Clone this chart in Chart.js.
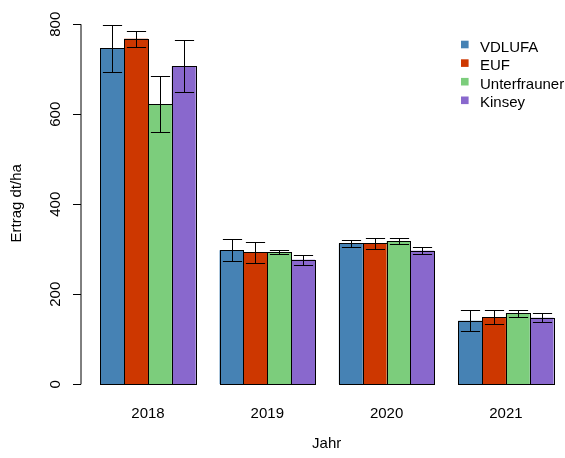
<!DOCTYPE html>
<html>
<head>
<meta charset="utf-8">
<script src="https://cdn.jsdelivr.net/npm/chart.js@4/dist/chart.umd.min.js"></script>
<style>
  html, body { margin: 0; padding: 0; background: #fff; overflow: hidden; }
  canvas { display: block; }
</style>
</head>
<body>
<canvas id="c" width="565" height="458"></canvas>
<script>
// Yield per year and method (means and standard deviations, dt/ha)
const years = ['2018', '2019', '2020', '2021'];
const methods = ['VDLUFA', 'EUF', 'Unterfrauner', 'Kinsey'];

const vdlufa = [747, 298, 313, 141];
const vdlufaSd = [52, 24, 8, 23];
const euf = [768, 293, 313, 149];
const eufSd = [18, 23, 12, 15];
const unterfrauner = [623, 294, 318, 158];
const unterfraunerSd = [62, 5, 6, 8];
const kinsey = [707, 277, 297, 148];
const kinseySd = [57, 11, 7, 10];

const yTicks = [0, 200, 400, 600, 800];

const colors = ['#4682B4', '#CD3700', '#7CCD7C', '#8968CD'];
const means = [vdlufa, euf, unterfrauner, kinsey];
const sds = [vdlufaSd, eufSd, unterfraunerSd, kinseySd];

const FONT = '15px "Liberation Sans", Arial, Helvetica, sans-serif';
const TEXT = '#000';

const datasets = methods.map((name, i) => ({
  label: name,
  data: means[i].map((v, j) => ({ x: j, y: v })),
  sd: sds[i],
  backgroundColor: colors[i],
  borderWidth: 0,
  inflateAmount: 0
}));

const snap = v => Math.round(v) + 0.5;

// Bar outlines (centred on the bar edges) and error bars at mean ± sd
const barDecor = {
  id: 'barDecor',
  afterDatasetsDraw(chart) {
    const ctx = chart.ctx;
    const ys = chart.scales.y;
    ctx.save();
    ctx.strokeStyle = '#000';
    ctx.lineWidth = 1;
    chart.data.datasets.forEach((ds, i) => {
      chart.getDatasetMeta(i).data.forEach(bar => {
        const l = snap(bar.x - bar.width / 2), r = snap(bar.x + bar.width / 2);
        const t = snap(bar.y), b = snap(bar.base);
        ctx.strokeRect(l, t, r - l, b - t);
      });
    });
    chart.data.datasets.forEach((ds, i) => {
      chart.getDatasetMeta(i).data.forEach((bar, j) => {
        const m = ds.data[j].y, s = ds.sd[j];
        const x = snap(bar.x);
        const y1 = snap(ys.getPixelForValue(m + s));
        const y2 = snap(ys.getPixelForValue(m - s));
        const cap = 9.6;
        ctx.beginPath();
        ctx.moveTo(x, y1); ctx.lineTo(x, y2);
        ctx.moveTo(x - cap, y1); ctx.lineTo(x + cap, y1);
        ctx.moveTo(x - cap, y2); ctx.lineTo(x + cap, y2);
        ctx.stroke();
      });
    });
    ctx.restore();
  }
};

// Left value axis, category labels, axis titles and legend
const decorations = {
  id: 'decorations',
  afterDraw(chart) {
    const ctx = chart.ctx;
    const xs = chart.scales.x, ys = chart.scales.y;
    const area = chart.chartArea;
    const axisX = 81;
    ctx.save();
    ctx.strokeStyle = '#000';
    ctx.lineWidth = 1;

    // value axis line and tick marks
    ctx.beginPath();
    ctx.moveTo(axisX, ys.getPixelForValue(yTicks[0]));
    ctx.lineTo(axisX, ys.getPixelForValue(yTicks[yTicks.length - 1]));
    yTicks.forEach(t => {
      const py = snap(ys.getPixelForValue(t));
      ctx.moveTo(axisX, py);
      ctx.lineTo(axisX - 8, py);
    });
    ctx.stroke();

    ctx.fillStyle = TEXT;
    ctx.font = FONT;

    // value tick labels, rotated
    yTicks.forEach(t => {
      const py = ys.getPixelForValue(t);
      ctx.save();
      ctx.translate(60, py);
      ctx.rotate(-Math.PI / 2);
      ctx.textAlign = 'center';
      ctx.textBaseline = 'alphabetic';
      ctx.fillText(String(t), 0, 0);
      ctx.restore();
    });

    // year labels under each group
    ctx.textAlign = 'center';
    ctx.textBaseline = 'alphabetic';
    years.forEach((label, j) => {
      ctx.fillText(label, xs.getPixelForValue(j), 418);
    });

    // axis titles
    ctx.fillText('Jahr', 326.7, 448);
    ctx.save();
    ctx.translate(20.5, (area.top + area.bottom) / 2);
    ctx.rotate(-Math.PI / 2);
    ctx.fillText('Ertrag dt/ha', 0, 0);
    ctx.restore();

    // legend
    ctx.textAlign = 'left';
    methods.forEach((name, i) => {
      const cy = 44.5 + i * 18.6;
      ctx.fillStyle = colors[i];
      ctx.fillRect(461, cy - 3.8, 7.6, 7.6);
      ctx.fillStyle = TEXT;
      ctx.fillText(name, 480, cy + 7);
    });
    ctx.restore();
  }
};

new Chart(document.getElementById('c'), {
  type: 'bar',
  data: { datasets },
  options: {
    responsive: false,
    animation: false,
    events: [],
    layout: { padding: { left: 81.3, right: 0, top: 22.3, bottom: 73.7 } },
    datasets: { bar: { categoryPercentage: 0.8, barPercentage: 1.0 } },
    scales: {
      x: {
        type: 'linear',
        display: false,
        offset: false,
        min: -0.559,
        max: 3.4954,
        afterBuildTicks(axis) {
          axis.ticks = years.map((_, j) => ({ value: j }));
        }
      },
      y: {
        type: 'linear',
        display: false,
        min: 0,
        max: 804.4
      }
    },
    plugins: {
      legend: { display: false },
      tooltip: { enabled: false }
    }
  },
  plugins: [barDecor, decorations]
});
</script>
</body>
</html>
